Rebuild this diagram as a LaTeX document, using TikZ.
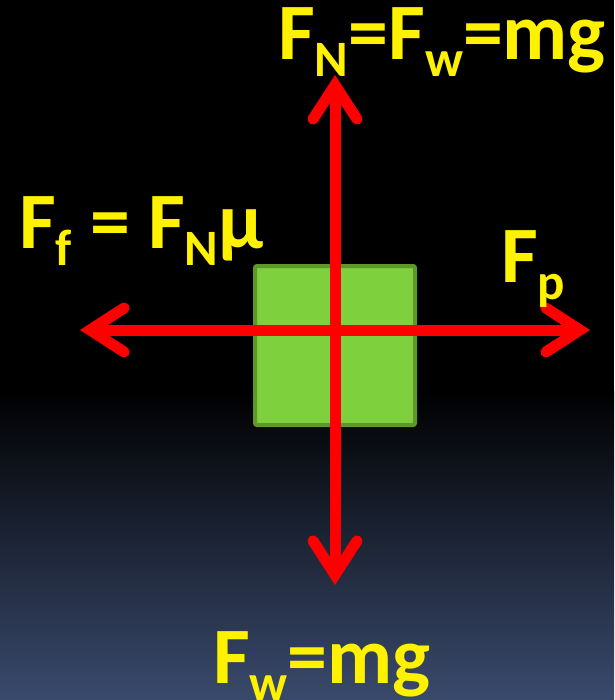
\documentclass[tikz,border=0pt]{standalone}
\usepackage{fontspec}
\setmainfont{Carlito}
\usetikzlibrary{arrows.meta}
\definecolor{bgblue}{RGB}{58,74,108}
\definecolor{boxgreen}{RGB}{126,208,60}
\definecolor{boxedge}{RGB}{94,152,42}
\newcommand{\sbs}[1]{\raisebox{-17pt}{\fontsize{51}{51}\selectfont #1}}
\tikzset{
  barb/.tip={Straight Barb[length=34pt,width=44pt,line cap=round]},
  force/.style={line width=11pt, red, barb-barb},
  lbl/.style={text=yellow, font=\fontsize{80}{80}\selectfont\bfseries, anchor=base west, inner sep=0pt},
}
\begin{document}
\begin{tikzpicture}[x=1pt,y=-1pt]
\useasboundingbox (0,0) rectangle (614,700);
% Background
\fill[black] (0,0) rectangle (614,392);
\shade[top color=black, bottom color=bgblue] (0,390) rectangle (614,700);

% Block
\draw[line width=4pt, boxedge, fill=boxgreen, rounded corners=2pt] (255,266) rectangle (415,425);

% Forces
\coordinate (top) at (335,75);
\coordinate (bot) at (335,585);
\coordinate (lft) at (80,330);
\coordinate (rgt) at (590,330);
\draw[force] (bot) -- (top);
\draw[force] (lft) -- (rgt);

% Labels
\node[lbl] (fn) at (278,60) {F\sbs{N}=F\sbs{w}=mg};
\node[lbl] (ff) at (19,249) {F\sbs{f} = F\sbs{N}μ};
\node[lbl] (fp) at (501,282) {F\sbs{p}};
\node[lbl] (fw) at (213,683) {F\sbs{w}=mg};
\end{tikzpicture}
\end{document}
